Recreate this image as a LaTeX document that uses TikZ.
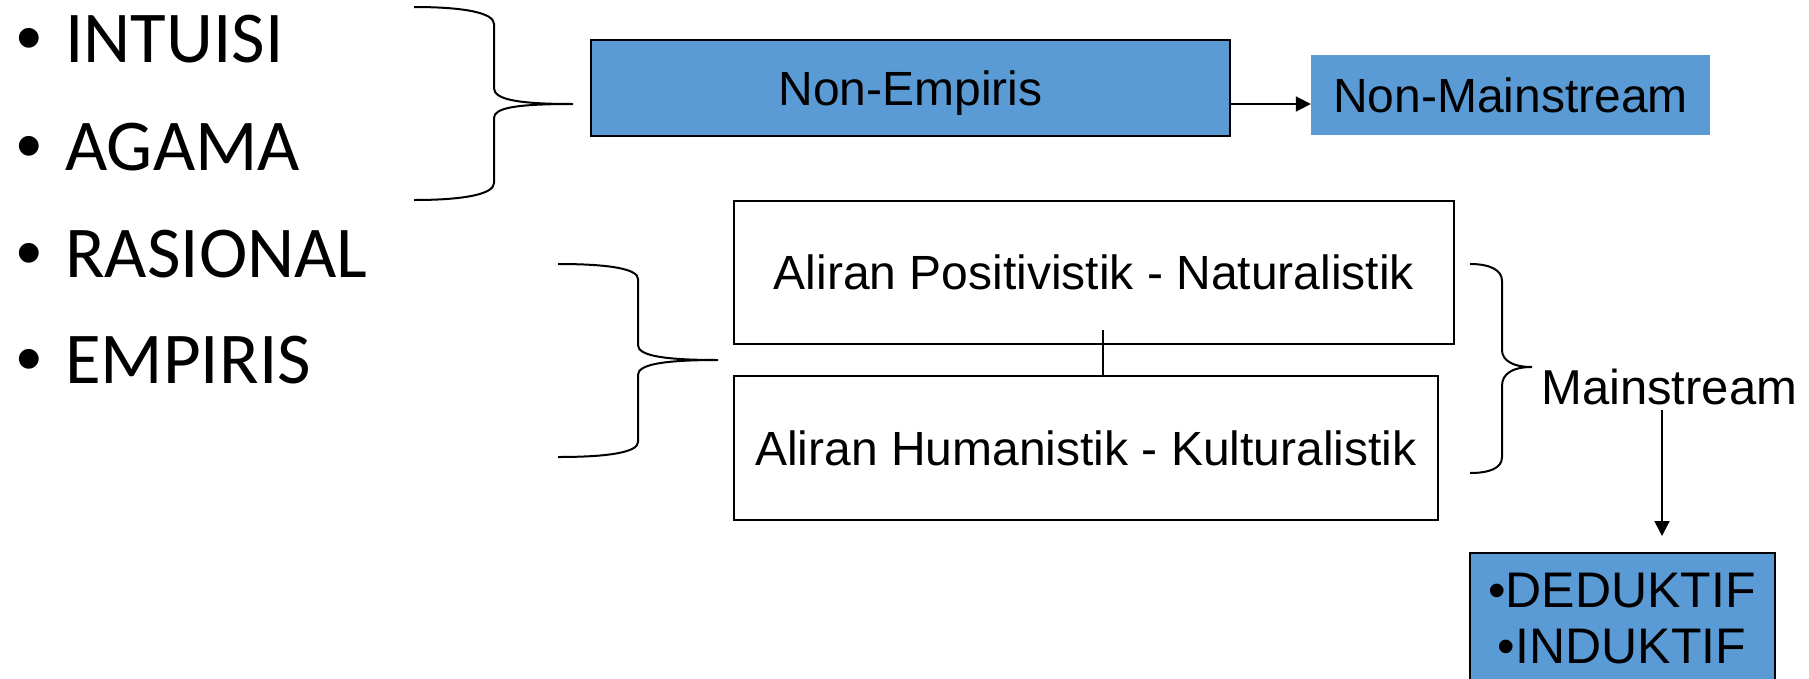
\documentclass[tikz,border=0pt]{standalone}
\usepackage{fontspec}
\setmainfont{Liberation Sans}
\newfontfamily\carlito{Carlito}
\usetikzlibrary{arrows.meta}
\definecolor{boxblue}{HTML}{5B9BD5}
\begin{document}
\begin{tikzpicture}[x=1pt,y=-1pt,
  lbl/.style={font=\fontsize{48}{56}\selectfont, inner sep=0pt, text height=34pt, text depth=0pt},
  listitem/.style={font=\carlito\fontsize{73}{80}\selectfont, anchor=base west, inner sep=0pt},
  listbullet/.style={font=\fontsize{73}{80}\selectfont, anchor=base, inner sep=0pt},
  bluebox/.style={lbl, draw=black, fill=boxblue, line width=2pt},
  plainblue/.style={lbl, fill=boxblue},
  whitebox/.style={lbl, draw=black, fill=white, line width=2pt},
  brace/.style={draw=black, line width=2pt},
  arr/.style={draw=black, line width=2pt, -{Triangle[length=15pt,width=15pt]}},
  link/.style={draw=black, line width=1.6pt},
  dedtext/.style={font=\fontsize{50}{56}\selectfont, inner sep=0pt, anchor=base}]
\useasboundingbox (0,0) rectangle (1809,678);
% bullet list
\node[listbullet] (b1) at (29,62) {•};
\node[listitem] (i1) at (65,62) {INTUISI};
\node[listbullet] (b2) at (29,170) {•};
\node[listitem] (i2) at (65,170) {AGAMA};
\node[listbullet] (b3) at (29,277) {•};
\node[listitem] (i3) at (65,277) {RASIONAL};
\node[listbullet] (b4) at (29,383) {•};
\node[listitem] (i4) at (65,383) {EMPIRIS};
% braces
\draw[brace] (414,7) .. controls (465,7) and (494,13) .. (494,24) -- (494,88)
  .. controls (494,99) and (515,104) .. (573,104)
  .. controls (515,104) and (494,108) .. (494,118) -- (494,183)
  .. controls (494,194) and (465,200) .. (414,200);
\draw[brace] (558,264) .. controls (610,264) and (638,269) .. (638,279) -- (638,345)
  .. controls (638,355) and (660,360) .. (718,360)
  .. controls (660,360) and (638,365) .. (638,375) -- (638,442)
  .. controls (638,452) and (610,457) .. (558,457);
\draw[brace] (1470,264) .. controls (1490,264) and (1502,270) .. (1502,281) -- (1502,350)
  .. controls (1502,360) and (1512,367) .. (1532,367)
  .. controls (1512,367) and (1502,374) .. (1502,386) -- (1502,457)
  .. controls (1502,468) and (1490,473) .. (1470,473);
% boxes
\node[bluebox, minimum width=639pt, minimum height=96pt] (ne) at (910.5,88) {Non-Empiris};
\node[plainblue, minimum width=399pt, minimum height=80pt] (nm) at (1510.5,95) {Non-Mainstream};
\node[whitebox, minimum width=720pt, minimum height=143pt] (ap) at (1094,272.5) {Aliran Positivistik - Naturalistik};
\node[whitebox, minimum width=704pt, minimum height=144pt] (ah) at (1086,448) {Aliran Humanistik - Kulturalistik};
\node[lbl, anchor=base west, font=\fontsize{49}{56}\selectfont] (ms) at (1541,404) {Mainstream};
\node[bluebox, minimum width=305pt, minimum height=160pt, anchor=north] (ded) at (1622.5,552) {};
\node[dedtext] (d1) at (1622,607) {•DEDUKTIF};
\node[dedtext] (d2) at (1622,663) {•INDUKTIF};
% connectors
\draw[arr] ([yshift=-16pt]ne.east) -- ([yshift=-16pt]ne.east -| nm.west);
\coordinate (apin) at (1103,330);
\draw[link] (apin) -- (apin |- ah.north);
\coordinate (msb) at (1662,410);
\draw[arr, shorten >=16pt] (msb) -- (msb |- ded.north);
\end{tikzpicture}
\end{document}
